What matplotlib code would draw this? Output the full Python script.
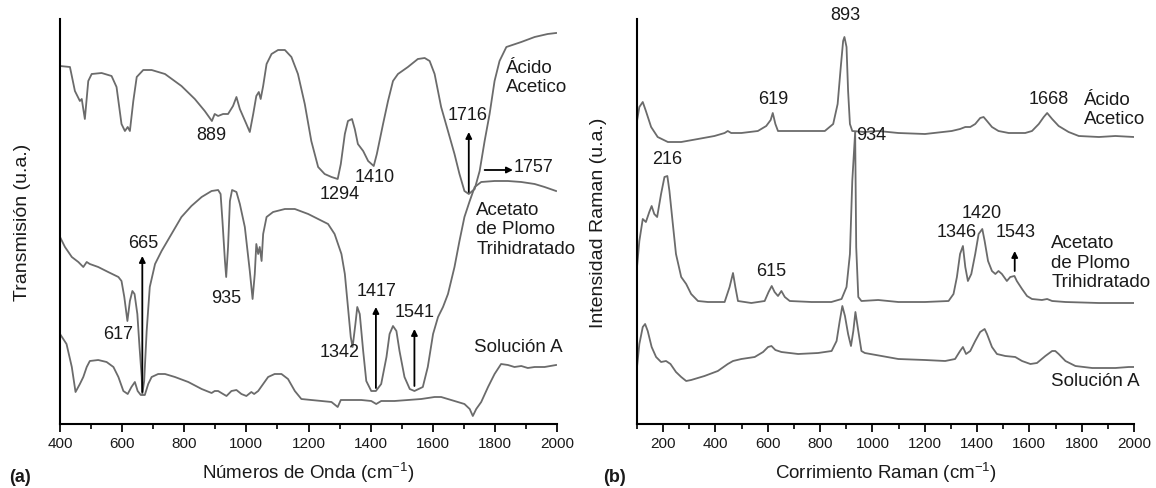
import matplotlib
matplotlib.use('Agg')
import matplotlib.pyplot as plt
from matplotlib.ticker import MultipleLocator

plt.rcParams['font.family'] = ['Liberation Sans', 'DejaVu Sans']
plt.rcParams['mathtext.default'] = 'regular'

# ---- (a) Espectros FTIR: numero de onda (cm-1) y transmision (u.a.) ----
ftir_acido_x = [400, 432, 448, 464, 470, 480, 491, 502, 534, 566, 582, 598, 609, 618, 625, 636, 647, 668, 695, 738,
                791, 834, 866, 889, 898, 909, 925, 941, 957, 968, 979, 1000, 1011, 1022, 1032, 1040, 1046, 1054, 1065, 1081,
                1102, 1124, 1145, 1166, 1188, 1209, 1231, 1252, 1274, 1294, 1304, 1317, 1327, 1340, 1349, 1359, 1376, 1392, 1410, 1420,
                1440, 1456, 1472, 1488, 1520, 1552, 1574, 1590, 1606, 1627, 1649, 1670, 1686, 1702, 1716, 1735, 1751, 1767, 1783, 1799,
                1815, 1837, 1885, 1928, 1970, 1997]
ftir_acido_y = [358, 357, 333, 323, 325, 305, 343, 350, 351, 348, 337, 300, 293, 297, 293, 323, 347, 354, 354, 350,
                338, 325, 313, 303, 310, 308, 310, 310, 318, 327, 315, 300, 292, 310, 328, 332, 325, 338, 360, 370,
                374, 374, 367, 350, 320, 283, 257, 250, 247, 245, 260, 290, 303, 305, 295, 280, 273, 263, 258, 270,
                300, 323, 343, 350, 357, 365, 366, 363, 350, 317, 293, 270, 250, 233, 230, 235, 253, 283, 310, 343,
                363, 377, 382, 387, 390, 391]

ftir_acetato_x = [400, 416, 438, 459, 475, 486, 496, 523, 555, 588, 598, 607, 617, 625, 633, 640, 649, 656, 663, 665,
                  671, 679, 689, 706, 727, 759, 791, 823, 856, 888, 909, 917, 923, 931, 935, 941, 947, 954, 968, 979,
                  995, 1011, 1020, 1027, 1032, 1038, 1043, 1049, 1054, 1065, 1086, 1124, 1156, 1199, 1231, 1263, 1284, 1306, 1317, 1327,
                  1336, 1342, 1351, 1357, 1365, 1376, 1386, 1402, 1417, 1434, 1451, 1461, 1472, 1483, 1493, 1509, 1526, 1541, 1568, 1584,
                  1601, 1617, 1633, 1649, 1670, 1686, 1702, 1719, 1735, 1756, 1799, 1842, 1885, 1928, 1960, 1997]
ftir_acetato_y = [187, 177, 167, 162, 157, 162, 160, 157, 152, 147, 143, 127, 103, 123, 133, 130, 110, 77, 47, 30,
                  43, 93, 137, 160, 173, 190, 207, 218, 227, 233, 234, 230, 203, 163, 147, 177, 223, 234, 232, 220,
                  197, 153, 125, 150, 180, 170, 177, 163, 190, 207, 212, 215, 215, 210, 205, 200, 190, 170, 150, 117,
                  87, 77, 100, 117, 110, 73, 43, 33, 33, 40, 67, 90, 98, 93, 73, 47, 35, 33, 37, 57,
                  90, 107, 117, 130, 157, 183, 207, 223, 237, 242, 243, 243, 242, 240, 237, 233]

ftir_solucion_x = [400, 421, 438, 450, 464, 475, 486, 496, 523, 550, 572, 588, 604, 618, 630, 641, 650, 660, 673, 684,
                   695, 716, 738, 770, 813, 856, 888, 898, 909, 925, 936, 952, 968, 984, 1000, 1016, 1025, 1038, 1054, 1070,
                   1091, 1113, 1134, 1156, 1177, 1209, 1242, 1274, 1294, 1304, 1327, 1370, 1402, 1418, 1434, 1477, 1520, 1563, 1606, 1627,
                   1670, 1702, 1719, 1729, 1740, 1756, 1778, 1799, 1820, 1842, 1863, 1885, 1906, 1928, 1960, 1997]
ftir_solucion_y = [90, 80, 57, 32, 40, 47, 57, 63, 64, 62, 57, 47, 33, 30, 37, 42, 33, 29, 29, 40,
                   47, 50, 50, 47, 42, 35, 31, 33, 33, 30, 28, 33, 34, 30, 28, 32, 30, 33, 40, 47,
                   50, 50, 45, 33, 25, 24, 23, 22, 17, 24, 24, 24, 23, 20, 23, 23, 24, 25, 27, 27,
                   23, 20, 15, 8, 15, 22, 37, 50, 60, 59, 57, 58, 56, 57, 57, 59]

# ---- (b) Espectros Raman: corrimiento (cm-1) e intensidad (u.a.) ----
raman_acido_x = [100, 109, 122, 134, 154, 179, 218, 269, 333, 396, 435, 447, 460, 499, 562, 594, 611, 619, 629, 639,
                 716, 818, 850, 867, 879, 888, 893, 901, 907, 914, 923, 971, 1022, 1099, 1201, 1303, 1335, 1355, 1374, 1393,
                 1412, 1425, 1438, 1457, 1482, 1521, 1584, 1610, 1636, 1655, 1668, 1687, 1712, 1750, 1789, 1866, 1929, 2000]
raman_acido_y = [303, 317, 322, 313, 297, 287, 282, 282, 285, 288, 291, 293, 291, 291, 293, 298, 304, 311, 300, 293,
                 293, 293, 300, 320, 357, 383, 387, 377, 333, 300, 293, 292, 293, 291, 290, 293, 295, 297, 297, 300,
                 306, 307, 303, 297, 293, 291, 291, 293, 300, 307, 311, 305, 298, 292, 288, 287, 288, 287]

raman_acetato_x = [100, 109, 122, 134, 147, 156, 166, 177, 192, 205, 216, 224, 237, 249, 269, 288, 307, 333, 371, 435,
                   454, 467, 476, 486, 537, 588, 603, 615, 626, 639, 652, 665, 684, 767, 843, 882, 901, 914, 923, 934,
                   938, 946, 958, 1022, 1099, 1201, 1291, 1310, 1323, 1335, 1346, 1355, 1365, 1378, 1393, 1406, 1420, 1429, 1442, 1457,
                   1470, 1482, 1495, 1514, 1527, 1543, 1552, 1572, 1591, 1610, 1648, 1668, 1687, 1738, 1866, 2000]
raman_acetato_y = [157, 183, 205, 202, 212, 218, 210, 207, 230, 247, 248, 233, 200, 170, 147, 140, 130, 123, 122, 122,
                   137, 151, 137, 123, 121, 123, 132, 138, 132, 128, 133, 127, 123, 122, 122, 125, 137, 170, 243, 292,
                   177, 127, 123, 124, 122, 122, 123, 130, 147, 170, 178, 157, 143, 150, 170, 190, 195, 183, 163, 153,
                   150, 153, 150, 143, 147, 148, 143, 135, 128, 125, 124, 125, 123, 122, 121, 121]

raman_solucion_x = [100, 109, 122, 131, 141, 156, 173, 192, 211, 228, 249, 269, 288, 307, 358, 409, 447, 467, 499, 550,
                    582, 601, 614, 629, 652, 716, 792, 844, 863, 875, 885, 895, 907, 918, 927, 935, 946, 958, 971, 1035,
                    1099, 1201, 1278, 1316, 1335, 1346, 1358, 1374, 1393, 1412, 1429, 1438, 1457, 1476, 1508, 1546, 1572, 1604, 1629, 1661,
                    1687, 1699, 1712, 1738, 1776, 1840, 1929, 1980, 2000]
raman_solucion_y = [57, 80, 97, 100, 93, 77, 67, 62, 63, 60, 52, 47, 43, 44, 48, 53, 60, 63, 65, 67,
                    72, 77, 78, 74, 72, 70, 71, 73, 83, 103, 118, 108, 90, 78, 93, 112, 93, 73, 71, 68,
                    65, 64, 63, 65, 73, 77, 70, 73, 83, 92, 95, 90, 77, 70, 68, 67, 63, 60, 61, 68,
                    73, 73, 70, 63, 58, 56, 56, 57, 57]

color_linea = '#6b6b6b'
color_texto = '#1a1a1a'


def estilo_ejes(ax, xmin, xmax):
    ax.set_xlim(xmin, xmax)
    ax.set_ylim(0, 405)
    ax.spines['top'].set_visible(False)
    ax.spines['right'].set_visible(False)
    ax.spines['left'].set_linewidth(1.5)
    ax.spines['bottom'].set_linewidth(1.5)
    ax.set_yticks([])
    ax.xaxis.set_major_locator(MultipleLocator(200))
    ax.xaxis.set_minor_locator(MultipleLocator(100))
    ax.tick_params(axis='x', which='major', length=6, width=1.4, labelsize=11, colors=color_texto, pad=3)
    ax.tick_params(axis='x', which='minor', length=3.5, width=1.2)


def etiqueta(ax, x, y, texto, ha='center', size=13):
    ax.text(x, y, texto, ha=ha, va='center', fontsize=size, color=color_texto, clip_on=False)


def flecha(ax, x, y0, y1):
    ax.annotate('', xy=(x, y1), xytext=(x, y0),
                arrowprops=dict(arrowstyle='-|>', color='black', lw=1.3, mutation_scale=9,
                                shrinkA=0, shrinkB=0))


fig = plt.figure(figsize=(11.56, 4.89), dpi=100)
ax_a = fig.add_axes([60 / 1156, 64 / 489, 497 / 1156, 405 / 489])
ax_b = fig.add_axes([637 / 1156, 64 / 489, 497 / 1156, 405 / 489])

# Panel (a): FTIR
for xs, ys in [(ftir_acido_x, ftir_acido_y), (ftir_acetato_x, ftir_acetato_y), (ftir_solucion_x, ftir_solucion_y)]:
    ax_a.plot(xs, ys, color=color_linea, lw=1.3)
estilo_ejes(ax_a, 400, 2000)

etiqueta(ax_a, 888, 289, '889')
etiqueta(ax_a, 1300, 230, '1294')
etiqueta(ax_a, 1413, 247, '1410')
etiqueta(ax_a, 1713, 310, '1716')
flecha(ax_a, 1716, 232, 292)
ax_a.annotate('', xy=(1858, 254), xytext=(1767, 254),
              arrowprops=dict(arrowstyle='-|>', color='black', lw=1.3, mutation_scale=9, shrinkA=0, shrinkB=0))
etiqueta(ax_a, 1861, 257, '1757', ha='left')
etiqueta(ax_a, 668, 181, '665')
flecha(ax_a, 665, 32, 168)
etiqueta(ax_a, 588, 90, '617')
etiqueta(ax_a, 936, 126, '935')
etiqueta(ax_a, 1300, 72, '1342')
etiqueta(ax_a, 1418, 133, '1417')
flecha(ax_a, 1417, 36, 117)
etiqueta(ax_a, 1542, 112, '1541')
flecha(ax_a, 1541, 38, 95)
etiqueta(ax_a, 1836, 347, 'Ácido\nAcetico', ha='left', size=13.5)
etiqueta(ax_a, 1740, 195, 'Acetato\nde Plomo\nTrihidratado', ha='left', size=13.5)
etiqueta(ax_a, 1732, 77, 'Solución A', ha='left', size=13.5)

ax_a.set_xlabel(r'Números de Onda (cm$^{-1}$)', fontsize=13.5, color=color_texto)
ax_a.xaxis.set_label_coords(0.5, -0.118)
ax_a.xaxis.label.set_verticalalignment('center')
ax_a.set_ylabel('Transmisión (u.a.)', fontsize=14, color=color_texto)
ax_a.yaxis.set_label_coords(-0.076, 0.5)
ax_a.yaxis.label.set_verticalalignment('center')

# Panel (b): Raman
for xs, ys in [(raman_acido_x, raman_acido_y), (raman_acetato_x, raman_acetato_y), (raman_solucion_x, raman_solucion_y)]:
    ax_b.plot(xs, ys, color=color_linea, lw=1.3)
estilo_ejes(ax_b, 100, 2000)

etiqueta(ax_b, 895, 410, '893')
etiqueta(ax_b, 620, 326, '619')
etiqueta(ax_b, 1674, 326, '1668')
etiqueta(ax_b, 1808, 315, 'Ácido\nAcetico', ha='left', size=13.5)
etiqueta(ax_b, 997, 289, '934')
etiqueta(ax_b, 215, 265, '216')
etiqueta(ax_b, 614, 154, '615')
etiqueta(ax_b, 1418, 211, '1420')
etiqueta(ax_b, 1323, 192, '1346')
etiqueta(ax_b, 1546, 192, '1543')
flecha(ax_b, 1544, 153, 173)
etiqueta(ax_b, 1684, 162, 'Acetato\nde Plomo\nTrihidratado', ha='left', size=13.5)
etiqueta(ax_b, 1684, 43, 'Solución A', ha='left', size=13.5)

ax_b.set_xlabel(r'Corrimiento Raman (cm$^{-1}$)', fontsize=13.5, color=color_texto)
ax_b.xaxis.set_label_coords(0.5, -0.118)
ax_b.xaxis.label.set_verticalalignment('center')
ax_b.set_ylabel('Intensidad Raman (u.a.)', fontsize=14, color=color_texto)
ax_b.yaxis.set_label_coords(-0.078, 0.5)
ax_b.yaxis.label.set_verticalalignment('center')

fig.text(20 / 1156, 1 - 478 / 489, '(a)', fontsize=13, fontweight='bold', ha='center', va='center', color=color_texto)
fig.text(614 / 1156, 1 - 478 / 489, '(b)', fontsize=13, fontweight='bold', ha='center', va='center', color=color_texto)

fig.savefig('out.png', dpi=100)
